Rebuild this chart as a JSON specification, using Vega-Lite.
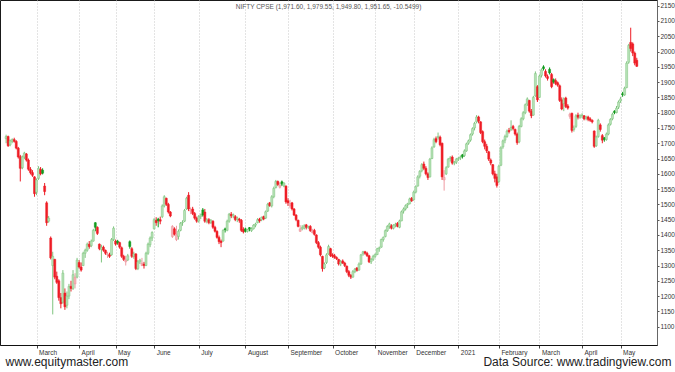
{
"$schema":"https://vega.github.io/schema/vega-lite/v6.json",
"width":657,"height":345,
"autosize":{"type":"none"},
"padding":{"left":0,"top":0,"right":18,"bottom":27},
"background":"white",
"config":{"view":{"stroke":"#1a1a1a","strokeWidth":1},"font":"Liberation Sans","axis":{"labelOverlap":false,"labelSeparation":0},"axisY":{"labelOverlap":false}},
"title":{"text":"NIFTY CPSE (1,971.60, 1,979.55, 1,949.80, 1,951.65, -10.5499)","anchor":"middle","frame":"group","offset":-10,"fontSize":6.5,"fontWeight":"normal","color":"#555"},
"data":{"values":[
{"d":"2020-02-07","o":1715,"h":1728,"l":1700,"c":1722},
{"d":"2020-02-10","o":1722,"h":1725,"l":1688,"c":1692},
{"d":"2020-02-11","o":1695,"h":1712,"l":1690,"c":1708},
{"d":"2020-02-12","o":1706,"h":1716,"l":1700,"c":1712},
{"d":"2020-02-13","o":1712,"h":1718,"l":1702,"c":1706},
{"d":"2020-02-14","o":1706,"h":1710,"l":1680,"c":1684},
{"d":"2020-02-17","o":1684,"h":1688,"l":1650,"c":1655},
{"d":"2020-02-18","o":1656,"h":1662,"l":1575,"c":1618},
{"d":"2020-02-19","o":1620,"h":1660,"l":1615,"c":1655},
{"d":"2020-02-20","o":1655,"h":1672,"l":1648,"c":1668},
{"d":"2020-02-24","o":1665,"h":1668,"l":1640,"c":1645},
{"d":"2020-02-25","o":1645,"h":1650,"l":1610,"c":1615},
{"d":"2020-02-26","o":1615,"h":1622,"l":1598,"c":1604},
{"d":"2020-02-27","o":1604,"h":1612,"l":1590,"c":1595},
{"d":"2020-02-28","o":1590,"h":1592,"l":1525,"c":1535},
{"d":"2020-03-02","o":1540,"h":1585,"l":1530,"c":1580},
{"d":"2020-03-03","o":1585,"h":1625,"l":1580,"c":1618},
{"d":"2020-03-04","o":1615,"h":1622,"l":1595,"c":1600},
{"d":"2020-03-05","o":1612,"h":1618,"l":1598,"c":1602},
{"d":"2020-03-06","o":1560,"h":1570,"l":1530,"c":1542},
{"d":"2020-03-09","o":1505,"h":1510,"l":1430,"c":1440},
{"d":"2020-03-11","o":1445,"h":1462,"l":1440,"c":1455},
{"d":"2020-03-12","o":1390,"h":1395,"l":1320,"c":1325},
{"d":"2020-03-13","o":1300,"h":1345,"l":1140,"c":1330},
{"d":"2020-03-16","o":1320,"h":1322,"l":1255,"c":1262},
{"d":"2020-03-17","o":1265,"h":1280,"l":1240,"c":1245},
{"d":"2020-03-18","o":1250,"h":1255,"l":1185,"c":1195},
{"d":"2020-03-19","o":1195,"h":1210,"l":1160,"c":1175},
{"d":"2020-03-20","o":1180,"h":1285,"l":1175,"c":1275},
{"d":"2020-03-23","o":1210,"h":1225,"l":1155,"c":1165},
{"d":"2020-03-24","o":1170,"h":1215,"l":1160,"c":1200},
{"d":"2020-03-25","o":1200,"h":1240,"l":1190,"c":1232},
{"d":"2020-03-26","o":1232,"h":1250,"l":1215,"c":1225},
{"d":"2020-03-27","o":1225,"h":1285,"l":1220,"c":1270},
{"d":"2020-03-30","o":1240,"h":1275,"l":1225,"c":1262},
{"d":"2020-03-31","o":1262,"h":1325,"l":1258,"c":1318},
{"d":"2020-04-01","o":1310,"h":1318,"l":1290,"c":1295},
{"d":"2020-04-03","o":1295,"h":1310,"l":1280,"c":1285},
{"d":"2020-04-07","o":1300,"h":1345,"l":1298,"c":1340},
{"d":"2020-04-08","o":1340,"h":1355,"l":1325,"c":1350},
{"d":"2020-04-09","o":1350,"h":1375,"l":1345,"c":1370},
{"d":"2020-04-13","o":1370,"h":1380,"l":1355,"c":1362},
{"d":"2020-04-15","o":1365,"h":1385,"l":1360,"c":1380},
{"d":"2020-04-16","o":1380,"h":1420,"l":1378,"c":1415},
{"d":"2020-04-17","o":1440,"h":1442,"l":1412,"c":1425},
{"d":"2020-04-20","o":1425,"h":1428,"l":1400,"c":1405},
{"d":"2020-04-21","o":1370,"h":1372,"l":1350,"c":1355},
{"d":"2020-04-22","o":1352,"h":1368,"l":1310,"c":1360},
{"d":"2020-04-23","o":1360,"h":1365,"l":1345,"c":1350},
{"d":"2020-04-24","o":1350,"h":1352,"l":1335,"c":1340},
{"d":"2020-04-27","o":1335,"h":1345,"l":1325,"c":1338},
{"d":"2020-04-28","o":1335,"h":1342,"l":1325,"c":1330},
{"d":"2020-04-29","o":1335,"h":1390,"l":1332,"c":1385},
{"d":"2020-04-30","o":1385,"h":1428,"l":1380,"c":1422},
{"d":"2020-05-04","o":1380,"h":1385,"l":1365,"c":1370},
{"d":"2020-05-05","o":1380,"h":1384,"l":1368,"c":1374},
{"d":"2020-05-06","o":1375,"h":1378,"l":1355,"c":1360},
{"d":"2020-05-07","o":1358,"h":1362,"l":1325,"c":1330},
{"d":"2020-05-08","o":1330,"h":1335,"l":1315,"c":1320},
{"d":"2020-05-11","o":1312,"h":1332,"l":1300,"c":1318},
{"d":"2020-05-12","o":1318,"h":1338,"l":1315,"c":1332},
{"d":"2020-05-13","o":1378,"h":1382,"l":1355,"c":1362},
{"d":"2020-05-14","o":1355,"h":1360,"l":1325,"c":1330},
{"d":"2020-05-15","o":1330,"h":1345,"l":1322,"c":1338},
{"d":"2020-05-18","o":1338,"h":1340,"l":1285,"c":1290},
{"d":"2020-05-19","o":1290,"h":1318,"l":1285,"c":1312},
{"d":"2020-05-20","o":1312,"h":1322,"l":1305,"c":1318},
{"d":"2020-05-21","o":1300,"h":1325,"l":1298,"c":1308},
{"d":"2020-05-22","o":1305,"h":1312,"l":1290,"c":1300},
{"d":"2020-05-26","o":1300,"h":1345,"l":1298,"c":1340},
{"d":"2020-05-27","o":1340,"h":1375,"l":1335,"c":1370},
{"d":"2020-05-28","o":1368,"h":1395,"l":1360,"c":1390},
{"d":"2020-05-29","o":1390,"h":1412,"l":1380,"c":1408},
{"d":"2020-06-01","o":1420,"h":1455,"l":1418,"c":1450},
{"d":"2020-06-02","o":1448,"h":1458,"l":1430,"c":1440},
{"d":"2020-06-03","o":1452,"h":1456,"l":1425,"c":1446},
{"d":"2020-06-04","o":1450,"h":1460,"l":1435,"c":1445},
{"d":"2020-06-05","o":1460,"h":1500,"l":1455,"c":1495},
{"d":"2020-06-08","o":1495,"h":1530,"l":1490,"c":1525},
{"d":"2020-06-09","o":1520,"h":1522,"l":1495,"c":1500},
{"d":"2020-06-10","o":1500,"h":1505,"l":1470,"c":1475},
{"d":"2020-06-11","o":1475,"h":1478,"l":1458,"c":1462},
{"d":"2020-06-12","o":1395,"h":1432,"l":1390,"c":1428},
{"d":"2020-06-15","o":1420,"h":1425,"l":1398,"c":1402},
{"d":"2020-06-16","o":1385,"h":1430,"l":1380,"c":1400},
{"d":"2020-06-17","o":1395,"h":1418,"l":1385,"c":1412},
{"d":"2020-06-18","o":1415,"h":1442,"l":1412,"c":1438},
{"d":"2020-06-19","o":1440,"h":1448,"l":1430,"c":1442},
{"d":"2020-06-22","o":1445,"h":1485,"l":1442,"c":1480},
{"d":"2020-06-23","o":1485,"h":1525,"l":1482,"c":1520},
{"d":"2020-06-24","o":1530,"h":1540,"l":1478,"c":1485},
{"d":"2020-06-25","o":1478,"h":1490,"l":1468,"c":1482},
{"d":"2020-06-26","o":1485,"h":1492,"l":1465,"c":1470},
{"d":"2020-06-29","o":1470,"h":1475,"l":1450,"c":1455},
{"d":"2020-06-30","o":1455,"h":1460,"l":1440,"c":1445},
{"d":"2020-07-01","o":1445,"h":1465,"l":1440,"c":1460},
{"d":"2020-07-02","o":1460,"h":1470,"l":1452,"c":1465},
{"d":"2020-07-03","o":1482,"h":1488,"l":1460,"c":1465},
{"d":"2020-07-06","o":1475,"h":1485,"l":1440,"c":1445},
{"d":"2020-07-07","o":1445,"h":1455,"l":1438,"c":1450},
{"d":"2020-07-08","o":1450,"h":1455,"l":1435,"c":1440},
{"d":"2020-07-09","o":1440,"h":1452,"l":1436,"c":1448},
{"d":"2020-07-10","o":1445,"h":1448,"l":1420,"c":1425},
{"d":"2020-07-13","o":1425,"h":1430,"l":1408,"c":1412},
{"d":"2020-07-14","o":1412,"h":1415,"l":1388,"c":1392},
{"d":"2020-07-15","o":1392,"h":1398,"l":1370,"c":1378},
{"d":"2020-07-16","o":1380,"h":1385,"l":1360,"c":1375},
{"d":"2020-07-17","o":1380,"h":1418,"l":1378,"c":1415},
{"d":"2020-07-20","o":1420,"h":1424,"l":1408,"c":1417},
{"d":"2020-07-21","o":1415,"h":1450,"l":1412,"c":1445},
{"d":"2020-07-22","o":1445,"h":1472,"l":1440,"c":1468},
{"d":"2020-07-23","o":1468,"h":1475,"l":1455,"c":1462},
{"d":"2020-07-24","o":1462,"h":1470,"l":1455,"c":1466},
{"d":"2020-07-27","o":1460,"h":1465,"l":1445,"c":1450},
{"d":"2020-07-28","o":1450,"h":1460,"l":1442,"c":1455},
{"d":"2020-07-29","o":1452,"h":1456,"l":1440,"c":1448},
{"d":"2020-07-30","o":1448,"h":1452,"l":1410,"c":1415},
{"d":"2020-07-31","o":1418,"h":1425,"l":1405,"c":1410},
{"d":"2020-08-03","o":1420,"h":1424,"l":1408,"c":1412},
{"d":"2020-08-04","o":1412,"h":1420,"l":1408,"c":1418},
{"d":"2020-08-05","o":1424,"h":1426,"l":1412,"c":1419},
{"d":"2020-08-06","o":1414,"h":1425,"l":1410,"c":1420},
{"d":"2020-08-07","o":1420,"h":1435,"l":1418,"c":1432},
{"d":"2020-08-10","o":1432,"h":1440,"l":1425,"c":1436},
{"d":"2020-08-11","o":1440,"h":1455,"l":1438,"c":1450},
{"d":"2020-08-12","o":1452,"h":1456,"l":1440,"c":1446},
{"d":"2020-08-13","o":1450,"h":1460,"l":1445,"c":1458},
{"d":"2020-08-14","o":1460,"h":1463,"l":1448,"c":1452},
{"d":"2020-08-17","o":1455,"h":1480,"l":1452,"c":1476},
{"d":"2020-08-18","o":1478,"h":1505,"l":1475,"c":1500},
{"d":"2020-08-19","o":1505,"h":1508,"l":1492,"c":1496},
{"d":"2020-08-20","o":1495,"h":1530,"l":1490,"c":1525},
{"d":"2020-08-21","o":1525,"h":1558,"l":1520,"c":1552},
{"d":"2020-08-24","o":1555,"h":1580,"l":1552,"c":1575},
{"d":"2020-08-25","o":1575,"h":1578,"l":1560,"c":1565},
{"d":"2020-08-26","o":1556,"h":1572,"l":1552,"c":1562},
{"d":"2020-08-27","o":1574,"h":1578,"l":1560,"c":1566},
{"d":"2020-08-28","o":1560,"h":1572,"l":1556,"c":1570},
{"d":"2020-08-31","o":1560,"h":1562,"l":1502,"c":1508},
{"d":"2020-09-01","o":1512,"h":1520,"l":1495,"c":1505},
{"d":"2020-09-02","o":1495,"h":1515,"l":1487,"c":1503},
{"d":"2020-09-03","o":1505,"h":1508,"l":1480,"c":1485},
{"d":"2020-09-04","o":1485,"h":1488,"l":1462,"c":1465},
{"d":"2020-09-07","o":1465,"h":1468,"l":1445,"c":1450},
{"d":"2020-09-08","o":1448,"h":1450,"l":1425,"c":1428},
{"d":"2020-09-09","o":1412,"h":1432,"l":1410,"c":1420},
{"d":"2020-09-10","o":1420,"h":1432,"l":1415,"c":1425},
{"d":"2020-09-11","o":1422,"h":1435,"l":1418,"c":1430},
{"d":"2020-09-14","o":1433,"h":1436,"l":1418,"c":1425},
{"d":"2020-09-15","o":1425,"h":1430,"l":1420,"c":1428},
{"d":"2020-09-16","o":1428,"h":1432,"l":1410,"c":1414},
{"d":"2020-09-17","o":1408,"h":1420,"l":1405,"c":1412},
{"d":"2020-09-18","o":1415,"h":1420,"l":1398,"c":1402},
{"d":"2020-09-21","o":1400,"h":1402,"l":1370,"c":1375},
{"d":"2020-09-22","o":1375,"h":1380,"l":1355,"c":1360},
{"d":"2020-09-23","o":1360,"h":1365,"l":1330,"c":1335},
{"d":"2020-09-24","o":1330,"h":1332,"l":1280,"c":1290},
{"d":"2020-09-25","o":1292,"h":1310,"l":1288,"c":1305},
{"d":"2020-09-28","o":1310,"h":1340,"l":1305,"c":1335},
{"d":"2020-09-29","o":1338,"h":1368,"l":1335,"c":1362},
{"d":"2020-09-30","o":1355,"h":1358,"l":1328,"c":1332},
{"d":"2020-10-01","o":1335,"h":1340,"l":1325,"c":1330},
{"d":"2020-10-05","o":1332,"h":1338,"l":1322,"c":1326},
{"d":"2020-10-06","o":1326,"h":1330,"l":1318,"c":1322},
{"d":"2020-10-07","o":1320,"h":1322,"l":1300,"c":1305},
{"d":"2020-10-08","o":1305,"h":1318,"l":1298,"c":1312},
{"d":"2020-10-09","o":1315,"h":1320,"l":1305,"c":1308},
{"d":"2020-10-12","o":1308,"h":1312,"l":1295,"c":1300},
{"d":"2020-10-13","o":1298,"h":1300,"l":1275,"c":1280},
{"d":"2020-10-14","o":1280,"h":1285,"l":1262,"c":1268},
{"d":"2020-10-15","o":1268,"h":1272,"l":1256,"c":1262},
{"d":"2020-10-16","o":1262,"h":1285,"l":1260,"c":1280},
{"d":"2020-10-19","o":1280,"h":1292,"l":1275,"c":1288},
{"d":"2020-10-20","o":1292,"h":1295,"l":1280,"c":1284},
{"d":"2020-10-21","o":1285,"h":1310,"l":1283,"c":1305},
{"d":"2020-10-22","o":1305,"h":1338,"l":1302,"c":1335},
{"d":"2020-10-23","o":1338,"h":1348,"l":1332,"c":1345},
{"d":"2020-10-26","o":1345,"h":1348,"l":1335,"c":1340},
{"d":"2020-10-27","o":1340,"h":1345,"l":1328,"c":1332},
{"d":"2020-10-28","o":1332,"h":1335,"l":1308,"c":1312},
{"d":"2020-10-29","o":1312,"h":1325,"l":1305,"c":1320},
{"d":"2020-10-30","o":1320,"h":1335,"l":1315,"c":1330},
{"d":"2020-11-02","o":1330,"h":1340,"l":1325,"c":1336},
{"d":"2020-11-03","o":1336,"h":1358,"l":1334,"c":1355},
{"d":"2020-11-04","o":1355,"h":1362,"l":1345,"c":1358},
{"d":"2020-11-05","o":1360,"h":1388,"l":1358,"c":1385},
{"d":"2020-11-06","o":1385,"h":1395,"l":1378,"c":1392},
{"d":"2020-11-09","o":1395,"h":1418,"l":1392,"c":1414},
{"d":"2020-11-10","o":1414,"h":1432,"l":1410,"c":1428},
{"d":"2020-11-11","o":1428,"h":1440,"l":1420,"c":1436},
{"d":"2020-11-12","o":1430,"h":1435,"l":1418,"c":1422},
{"d":"2020-11-13","o":1422,"h":1435,"l":1418,"c":1432},
{"d":"2020-11-17","o":1432,"h":1440,"l":1425,"c":1435},
{"d":"2020-11-18","o":1438,"h":1442,"l":1425,"c":1428},
{"d":"2020-11-19","o":1425,"h":1450,"l":1422,"c":1446},
{"d":"2020-11-20","o":1446,"h":1480,"l":1445,"c":1476},
{"d":"2020-11-23","o":1478,"h":1490,"l":1470,"c":1485},
{"d":"2020-11-24","o":1485,"h":1500,"l":1480,"c":1496},
{"d":"2020-11-25","o":1498,"h":1505,"l":1488,"c":1502},
{"d":"2020-11-26","o":1502,"h":1522,"l":1500,"c":1518},
{"d":"2020-11-27","o":1520,"h":1524,"l":1508,"c":1512},
{"d":"2020-12-01","o":1515,"h":1545,"l":1512,"c":1540},
{"d":"2020-12-02","o":1540,"h":1562,"l":1536,"c":1558},
{"d":"2020-12-03","o":1560,"h":1595,"l":1558,"c":1590},
{"d":"2020-12-04","o":1592,"h":1612,"l":1585,"c":1608},
{"d":"2020-12-07","o":1610,"h":1635,"l":1605,"c":1630},
{"d":"2020-12-08","o":1632,"h":1640,"l":1612,"c":1618},
{"d":"2020-12-09","o":1618,"h":1625,"l":1595,"c":1600},
{"d":"2020-12-10","o":1600,"h":1605,"l":1580,"c":1588},
{"d":"2020-12-11","o":1590,"h":1652,"l":1588,"c":1648},
{"d":"2020-12-14","o":1650,"h":1690,"l":1648,"c":1685},
{"d":"2020-12-15","o":1688,"h":1718,"l":1685,"c":1712},
{"d":"2020-12-16","o":1715,"h":1722,"l":1700,"c":1705},
{"d":"2020-12-17","o":1718,"h":1735,"l":1712,"c":1722},
{"d":"2020-12-18","o":1720,"h":1725,"l":1690,"c":1695},
{"d":"2020-12-21","o":1700,"h":1702,"l":1580,"c":1590},
{"d":"2020-12-22","o":1580,"h":1612,"l":1545,"c":1588},
{"d":"2020-12-23","o":1600,"h":1625,"l":1596,"c":1620},
{"d":"2020-12-24","o":1622,"h":1652,"l":1620,"c":1648},
{"d":"2020-12-28","o":1650,"h":1658,"l":1640,"c":1652},
{"d":"2020-12-29","o":1655,"h":1660,"l":1630,"c":1635},
{"d":"2020-12-30","o":1635,"h":1642,"l":1628,"c":1638},
{"d":"2020-12-31","o":1638,"h":1652,"l":1632,"c":1648},
{"d":"2021-01-01","o":1648,"h":1655,"l":1642,"c":1650},
{"d":"2021-01-04","o":1652,"h":1660,"l":1645,"c":1655},
{"d":"2021-01-05","o":1662,"h":1665,"l":1650,"c":1656},
{"d":"2021-01-06","o":1660,"h":1680,"l":1655,"c":1675},
{"d":"2021-01-07","o":1675,"h":1702,"l":1672,"c":1698},
{"d":"2021-01-08","o":1700,"h":1712,"l":1695,"c":1708},
{"d":"2021-01-11","o":1710,"h":1732,"l":1705,"c":1728},
{"d":"2021-01-12","o":1730,"h":1752,"l":1725,"c":1748},
{"d":"2021-01-13","o":1750,"h":1770,"l":1742,"c":1765},
{"d":"2021-01-14","o":1770,"h":1792,"l":1765,"c":1786},
{"d":"2021-01-15","o":1786,"h":1790,"l":1765,"c":1772},
{"d":"2021-01-18","o":1770,"h":1772,"l":1730,"c":1735},
{"d":"2021-01-19","o":1738,"h":1742,"l":1700,"c":1705},
{"d":"2021-01-20","o":1705,"h":1712,"l":1680,"c":1690},
{"d":"2021-01-21","o":1690,"h":1698,"l":1668,"c":1675},
{"d":"2021-01-22","o":1672,"h":1675,"l":1642,"c":1648},
{"d":"2021-01-25","o":1645,"h":1650,"l":1628,"c":1635},
{"d":"2021-01-27","o":1630,"h":1632,"l":1595,"c":1600},
{"d":"2021-01-28","o":1600,"h":1610,"l":1572,"c":1585},
{"d":"2021-01-29","o":1590,"h":1600,"l":1555,"c":1562},
{"d":"2021-02-01","o":1575,"h":1630,"l":1570,"c":1625},
{"d":"2021-02-02","o":1628,"h":1690,"l":1625,"c":1685},
{"d":"2021-02-03","o":1688,"h":1712,"l":1682,"c":1708},
{"d":"2021-02-04","o":1710,"h":1728,"l":1700,"c":1722},
{"d":"2021-02-05","o":1722,"h":1745,"l":1718,"c":1740},
{"d":"2021-02-08","o":1742,"h":1750,"l":1732,"c":1738},
{"d":"2021-02-09","o":1745,"h":1775,"l":1740,"c":1752},
{"d":"2021-02-10","o":1755,"h":1760,"l":1742,"c":1748},
{"d":"2021-02-11","o":1745,"h":1748,"l":1725,"c":1730},
{"d":"2021-02-12","o":1730,"h":1735,"l":1695,"c":1702},
{"d":"2021-02-15","o":1705,"h":1760,"l":1700,"c":1755},
{"d":"2021-02-16","o":1755,"h":1785,"l":1752,"c":1780},
{"d":"2021-02-17","o":1780,"h":1805,"l":1775,"c":1800},
{"d":"2021-02-18","o":1800,"h":1830,"l":1795,"c":1826},
{"d":"2021-02-19","o":1828,"h":1850,"l":1822,"c":1845},
{"d":"2021-02-22","o":1840,"h":1842,"l":1800,"c":1805},
{"d":"2021-02-23","o":1805,"h":1812,"l":1782,"c":1790},
{"d":"2021-02-24","o":1792,"h":1855,"l":1790,"c":1850},
{"d":"2021-02-25","o":1855,"h":1935,"l":1852,"c":1928},
{"d":"2021-02-26","o":1885,"h":1890,"l":1835,"c":1842},
{"d":"2021-03-01","o":1850,"h":1925,"l":1848,"c":1920},
{"d":"2021-03-02","o":1922,"h":1945,"l":1915,"c":1940},
{"d":"2021-03-03","o":1950,"h":1955,"l":1938,"c":1944},
{"d":"2021-03-04","o":1935,"h":1942,"l":1915,"c":1920},
{"d":"2021-03-05","o":1918,"h":1925,"l":1905,"c":1912},
{"d":"2021-03-08","o":1942,"h":1948,"l":1925,"c":1930},
{"d":"2021-03-09","o":1925,"h":1930,"l":1880,"c":1885},
{"d":"2021-03-10","o":1908,"h":1912,"l":1895,"c":1900},
{"d":"2021-03-12","o":1905,"h":1912,"l":1890,"c":1895},
{"d":"2021-03-15","o":1898,"h":1902,"l":1885,"c":1890},
{"d":"2021-03-16","o":1888,"h":1892,"l":1835,"c":1840},
{"d":"2021-03-17","o":1842,"h":1850,"l":1808,"c":1812},
{"d":"2021-03-18","o":1830,"h":1850,"l":1805,"c":1845},
{"d":"2021-03-19","o":1848,"h":1852,"l":1815,"c":1820},
{"d":"2021-03-22","o":1822,"h":1828,"l":1810,"c":1815},
{"d":"2021-03-23","o":1788,"h":1800,"l":1780,"c":1795},
{"d":"2021-03-24","o":1798,"h":1800,"l":1735,"c":1742},
{"d":"2021-03-25","o":1745,"h":1758,"l":1738,"c":1750},
{"d":"2021-03-26","o":1755,"h":1795,"l":1750,"c":1790},
{"d":"2021-03-30","o":1792,"h":1800,"l":1778,"c":1785},
{"d":"2021-03-31","o":1785,"h":1795,"l":1780,"c":1790},
{"d":"2021-04-01","o":1790,"h":1798,"l":1782,"c":1792},
{"d":"2021-04-05","o":1790,"h":1792,"l":1775,"c":1780},
{"d":"2021-04-06","o":1782,"h":1790,"l":1775,"c":1786},
{"d":"2021-04-07","o":1786,"h":1790,"l":1772,"c":1778},
{"d":"2021-04-08","o":1780,"h":1785,"l":1770,"c":1775},
{"d":"2021-04-09","o":1775,"h":1778,"l":1765,"c":1770},
{"d":"2021-04-12","o":1740,"h":1742,"l":1685,"c":1690},
{"d":"2021-04-13","o":1692,"h":1725,"l":1688,"c":1720},
{"d":"2021-04-15","o":1722,"h":1780,"l":1718,"c":1775},
{"d":"2021-04-16","o":1760,"h":1765,"l":1738,"c":1745},
{"d":"2021-04-19","o":1725,"h":1730,"l":1700,"c":1710},
{"d":"2021-04-20","o":1718,"h":1720,"l":1705,"c":1712},
{"d":"2021-04-22","o":1712,"h":1735,"l":1708,"c":1730},
{"d":"2021-04-23","o":1730,"h":1765,"l":1726,"c":1760},
{"d":"2021-04-26","o":1762,"h":1782,"l":1758,"c":1778},
{"d":"2021-04-27","o":1780,"h":1800,"l":1775,"c":1795},
{"d":"2021-04-28","o":1805,"h":1808,"l":1795,"c":1800},
{"d":"2021-04-29","o":1800,"h":1822,"l":1798,"c":1815},
{"d":"2021-04-30","o":1818,"h":1840,"l":1812,"c":1835},
{"d":"2021-05-03","o":1838,"h":1852,"l":1832,"c":1845},
{"d":"2021-05-04","o":1862,"h":1868,"l":1852,"c":1858},
{"d":"2021-05-05","o":1858,"h":1885,"l":1855,"c":1880},
{"d":"2021-05-06","o":1882,"h":1968,"l":1880,"c":1962},
{"d":"2021-05-07","o":1965,"h":2025,"l":1960,"c":2020},
{"d":"2021-05-10","o":2030,"h":2078,"l":2000,"c":2010},
{"d":"2021-05-11","o":2025,"h":2030,"l":1985,"c":1995},
{"d":"2021-05-12","o":1995,"h":2000,"l":1955,"c":1962.2},
{"d":"2021-05-14","o":1971.6,"h":1979.55,"l":1949.8,"c":1951.65}
]},
"transform":[{"window":[{"op":"lag","field":"c","as":"p"},{"op":"row_number","as":"i"}],"sort":[{"field":"d"}]}],
"encoding":{
"x":{"field":"i","type":"quantitative",
"scale":{"domain":[0.46,319.5],"nice":false,"zero":false},
"axis":{"title":"www.equitymaster.com","titleFont":"Liberation Sans","titleFontSize":12,"titleFontWeight":"normal","titleColor":"#222","titleAnchor":"start","titleAlign":"left","titleX":5,"titleY":20,"titleBaseline":"alphabetic",
"values":[-3,16,37,55,74,96,119,140,162,183,202,224,244,264,285,304],
"labelExpr":"['February','March','April','May','June','July','August','September','October','November','December','2021','February','March','April','May'][indexof([-3,16,37,55,74,96,119,140,162,183,202,224,244,264,285,304], datum.value)]",
"grid":true,"gridColor":"#c8c8c8","gridDash":[1,2],
"labelFontSize":6.5,"labelColor":"#333","labelAlign":"left","labelPadding":1,"labelOffset":2,"labelBaseline":"top","labelFlush":false,"labelOverlap":false,"labelBound":false,
"tickSize":3,"tickColor":"#444","domainColor":"#111"}}
},
"layer":[
{"mark":{"type":"rule","strokeWidth":1},
"encoding":{
"y":{"field":"l","type":"quantitative","scale":{"domain":[1040,2168.6],"nice":false,"zero":false},
"axis":{"orient":"right","values":[1100,1150,1200,1250,1300,1350,1400,1450,1500,1550,1600,1650,1700,1750,1800,1850,1900,1950,2000,2050,2100,2150],"format":"d","labelOverlap":false,
"title":"Data Source: www.tradingview.com","titleAngle":0,"titleAlign":"right","titleX":14,"titleY":365,"titleBaseline":"alphabetic","titleFont":"Liberation Sans","titleFontSize":12,"titleFontWeight":"normal","titleColor":"#222",
"grid":false,"labelFontSize":6.5,"labelColor":"#333","tickSize":2,"tickColor":"#555","labelPadding":1,"domainColor":"#666"}},
"y2":{"field":"h"},
"color":{"condition":[
{"test":"datum.c < datum.o && datum.c >= datum.p","value":"#129a1e"},
{"test":"datum.c < datum.o","value":"#ee1c25"},
{"test":"datum.c < datum.p","value":"#ef9aa1"}],"value":"#7fc47f"}
}},
{"mark":{"type":"bar","width":2,"strokeWidth":0.5},
"encoding":{
"y":{"field":"o","type":"quantitative","axis":{"orient":"right","values":[1100,1150,1200,1250,1300,1350,1400,1450,1500,1550,1600,1650,1700,1750,1800,1850,1900,1950,2000,2050,2100,2150],"format":"d","labelOverlap":false,
"title":"Data Source: www.tradingview.com","titleAngle":0,"titleAlign":"right","titleX":14,"titleY":365,"titleBaseline":"alphabetic","titleFont":"Liberation Sans","titleFontSize":12,"titleFontWeight":"normal","titleColor":"#222",
"grid":false,"labelFontSize":6.5,"labelColor":"#333","tickSize":2,"tickColor":"#555","labelPadding":1,"domainColor":"#666"}},
"y2":{"field":"c"},
"color":{"condition":[
{"test":"datum.c < datum.o && datum.c >= datum.p","value":"#129a1e"},
{"test":"datum.c < datum.o","value":"#ee1c25"},
{"test":"datum.c < datum.p","value":"#f5b5b9"}],"value":"#b8e2b8"},
"stroke":{"condition":[
{"test":"datum.c < datum.o && datum.c >= datum.p","value":"#129a1e"},
{"test":"datum.c < datum.o","value":"#ee1c25"},
{"test":"datum.c < datum.p","value":"#ec8f97"}],"value":"#7fc47f"}
}}
]
}
